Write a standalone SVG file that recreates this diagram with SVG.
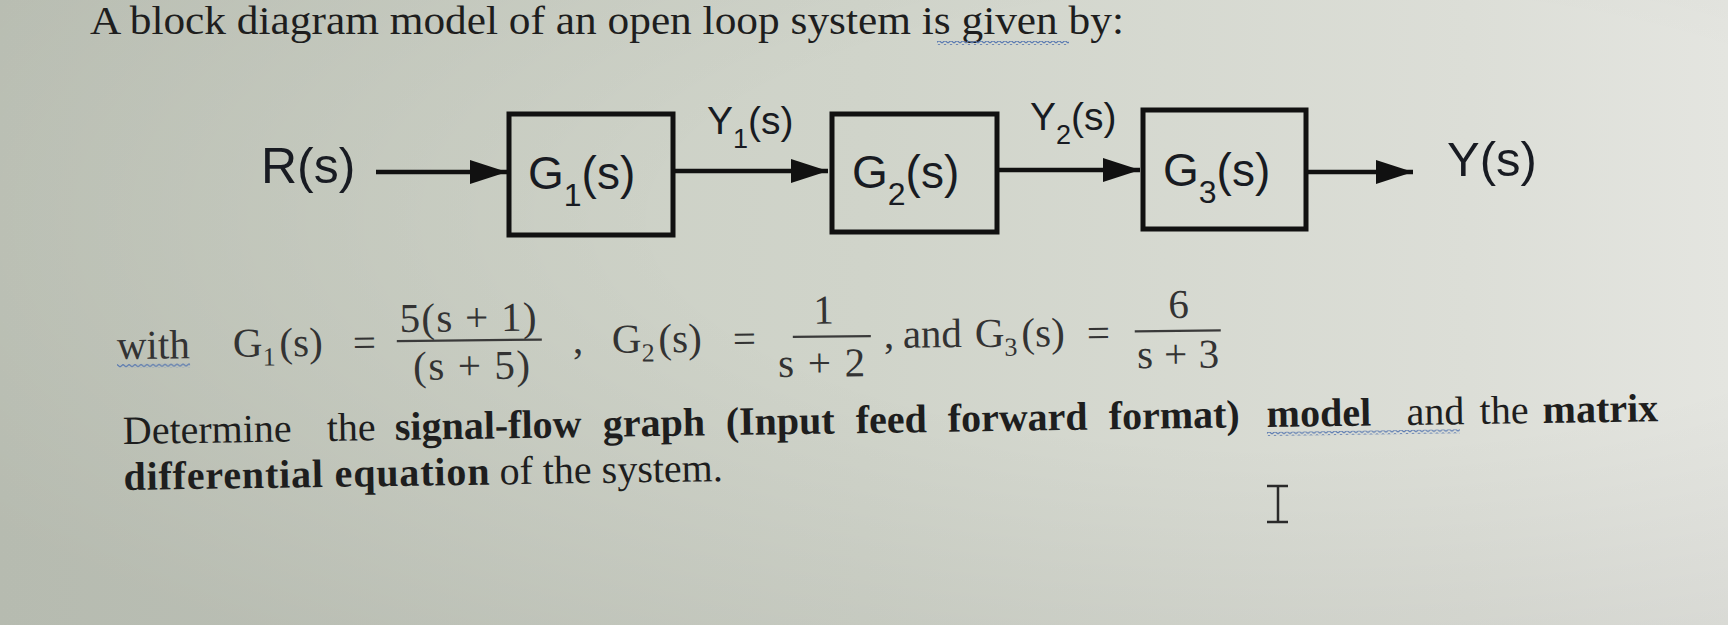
<svg xmlns="http://www.w3.org/2000/svg" width="1728" height="625" viewBox="0 0 1728 625">
<defs>
<linearGradient id="bg" x1="0" y1="0" x2="1" y2="0">
<stop offset="0" stop-color="#c6cbbf"/>
<stop offset="0.5" stop-color="#d0d4ca"/>
<stop offset="0.85" stop-color="#dcded7"/>
<stop offset="1" stop-color="#e4e5e0"/>
</linearGradient>
<radialGradient id="vig" cx="0.75" cy="0.35" r="0.9">
<stop offset="0.4" stop-color="#000" stop-opacity="0"/>
<stop offset="1" stop-color="#000" stop-opacity="0.08"/>
</radialGradient>
<marker id="ah" markerUnits="userSpaceOnUse" markerWidth="40" markerHeight="26" refX="37" refY="12" orient="auto">
<path d="M0,0 L37,12 L0,24 z" fill="#111"/>
</marker>
<pattern id="wavy" width="6" height="4" patternUnits="userSpaceOnUse">
<path d="M0,3 L3,0.5 L6,3" fill="none" stroke="#5878b0" stroke-width="1.2"/>
</pattern>
</defs>
<style>
.serif{font-family:"Liberation Serif","Times New Roman",serif;fill:#1e1e1e}
.eq{font-family:"Liberation Serif","Times New Roman",serif;fill:#333;font-size:41px}
.sans{font-family:"Liberation Sans",Arial,sans-serif;fill:#181b22}
.box{fill:none;stroke:#111;stroke-width:5}
.wire{stroke:#111;stroke-width:4.5;fill:none}
.bar{stroke:#3a3a3a;stroke-width:2.2}
.b{font-weight:bold}
</style>
<rect width="1728" height="625" fill="url(#bg)"/>
<rect width="1728" height="625" fill="url(#vig)"/>

<text class="serif" x="90" y="34" font-size="39" textLength="1034" lengthAdjust="spacingAndGlyphs">A block diagram model of an open loop system is given by:</text>
<rect x="937" y="41" width="132" height="4" fill="url(#wavy)"/>

<g id="connectors">
<line class="wire" x1="376" y1="172" x2="507" y2="172" marker-end="url(#ah)"/>
<line class="wire" x1="673" y1="171" x2="828" y2="171" marker-end="url(#ah)"/>
<line class="wire" x1="997" y1="170" x2="1140" y2="170" marker-end="url(#ah)"/>
<line class="wire" x1="1306" y1="172" x2="1413" y2="172" marker-end="url(#ah)"/>
<text class="sans" x="707" y="134" font-size="39">Y<tspan font-size="27" dy="14">1</tspan><tspan dy="-14">(s)</tspan></text>
<text class="sans" x="1030" y="130" font-size="39">Y<tspan font-size="27" dy="14">2</tspan><tspan dy="-14">(s)</tspan></text>
</g>

<g id="input">
<text class="sans" x="261" y="183" font-size="50">R(s)</text>
</g>
<g id="g1">
<rect class="box" x="509" y="114" width="164" height="121"/>
<text class="sans" x="528" y="189" font-size="46">G<tspan font-size="32" dy="17">1</tspan><tspan dy="-17">(s)</tspan></text>
</g>
<g id="g2">
<rect class="box" x="832" y="114" width="165" height="118"/>
<text class="sans" x="852" y="188" font-size="46">G<tspan font-size="32" dy="17">2</tspan><tspan dy="-17">(s)</tspan></text>
</g>
<g id="g3">
<rect class="box" x="1143" y="110" width="163" height="119"/>
<text class="sans" x="1163" y="186" font-size="46">G<tspan font-size="32" dy="17">3</tspan><tspan dy="-17">(s)</tspan></text>
</g>
<g id="output">
<text class="sans" x="1447" y="176" font-size="49">Y(s)</text>
</g>

<g id="equations" transform="rotate(-0.6 117 359)">
<text class="eq" x="117" y="359">with</text>
<rect x="117" y="364" width="73" height="4" fill="url(#wavy)"/>
<text class="eq" x="233" y="358">G<tspan font-size="26" dy="9">1</tspan><tspan dy="-9" dx="4">(s)</tspan></text>
<text class="eq" x="353" y="359">=</text>
<text class="eq" x="400" y="335" textLength="137" lengthAdjust="spacing">5(s + 1)</text>
<line class="bar" x1="397" y1="344" x2="542" y2="344"/>
<text class="eq" x="413" y="383" textLength="117" lengthAdjust="spacing">(s + 5)</text>
<text class="eq" x="573" y="358">,</text>
<text class="eq" x="612" y="358">G<tspan font-size="26" dy="9">2</tspan><tspan dy="-9" dx="4">(s)</tspan></text>
<text class="eq" x="733" y="359">=</text>
<text class="eq" x="824" y="331" text-anchor="middle">1</text>
<line class="bar" x1="793" y1="344" x2="871" y2="344"/>
<text class="eq" x="778" y="384" textLength="87" lengthAdjust="spacing">s + 2</text>
<text class="eq" x="884" y="356">,</text>
<text class="eq" x="903" y="356">and</text>
<text class="eq" x="975" y="356">G<tspan font-size="26" dy="9">3</tspan><tspan dy="-9" dx="4">(s)</tspan></text>
<text class="eq" x="1087" y="357">=</text>
<text class="eq" x="1179" y="329" text-anchor="middle">6</text>
<line class="bar" x1="1135" y1="342" x2="1221" y2="342"/>
<text class="eq" x="1137" y="379" textLength="82" lengthAdjust="spacing">s + 3</text>
</g>

<g id="question" transform="rotate(-0.85 123 444)">
<text class="serif" y="444" font-size="40"><tspan x="123">Determine</tspan><tspan x="327">the</tspan><tspan x="395" class="b">signal-flow</tspan><tspan x="603" class="b">graph</tspan><tspan x="726" class="b">(Input</tspan><tspan x="856" class="b">feed</tspan><tspan x="948" class="b">forward</tspan><tspan x="1109" class="b">format)</tspan><tspan x="1267" class="b">model</tspan><tspan x="1407">and</tspan><tspan x="1480">the</tspan><tspan x="1543" class="b">matrix</tspan></text>
<rect x="1267" y="449" width="193" height="4" fill="url(#wavy)"/>
<text class="serif" y="490" font-size="40"><tspan x="123" class="b" textLength="366" lengthAdjust="spacing">differential equation</tspan><tspan x="499">of the system.</tspan></text>
</g>

<g id="cursor" stroke="#2a2a2a" stroke-width="2.5" fill="none">
<line x1="1278" y1="486" x2="1278" y2="522"/>
<line x1="1267" y1="486" x2="1288" y2="486"/>
<line x1="1267" y1="522" x2="1288" y2="522"/>
</g>
</svg>
